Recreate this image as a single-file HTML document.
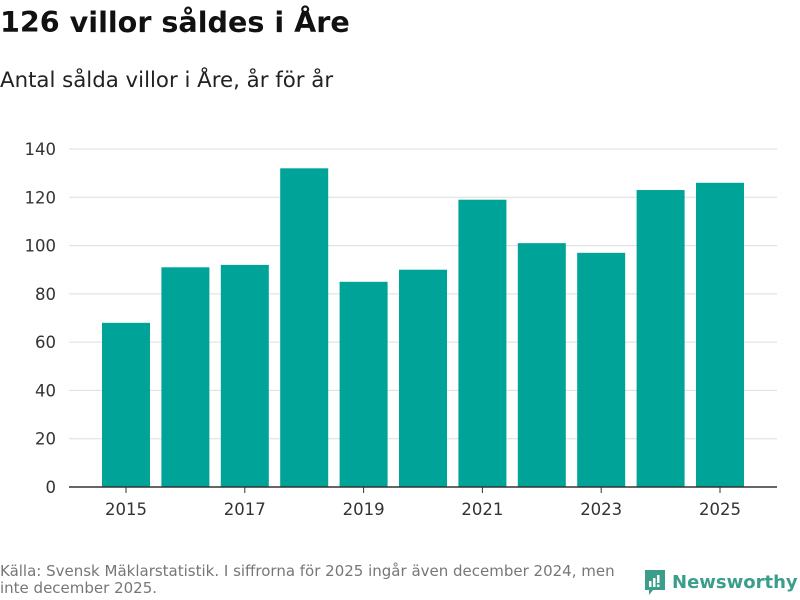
<!DOCTYPE html>
<html><head><meta charset="utf-8"><style>
body{margin:0;width:800px;height:600px;background:#fff;font-family:"DejaVu Sans","Liberation Sans",sans-serif;overflow:hidden;position:relative}
h1{position:absolute;left:0;top:5px;margin:0;font-size:28.6px;font-weight:bold;color:#111}
.sub{position:absolute;left:0;top:68px;font-size:21.3px;color:#222}
.src{position:absolute;left:0;top:563px;font-size:15px;color:#777;line-height:17px;width:640px}
.logo{position:absolute;left:643px;top:568px;display:flex;align-items:center;gap:5px;color:#3a9e8a;font-size:18px;font-weight:bold}
</style></head><body>
<h1>126 villor såldes i Åre</h1>
<div class="sub">Antal sålda villor i Åre, år för år</div>
<svg id="chart" width="800" height="560" style="position:absolute;left:0;top:0"></svg>
<div class="src">Källa: Svensk Mäklarstatistik. I siffrorna för 2025 ingår även december 2024, men inte december 2025.</div>
<div class="logo"><svg width="24" height="28" viewBox="0 0 24 28"><path d="M2 2h20v20H10l-4 5v-5H2z" fill="#3a9e8a"/><rect x="6" y="13" width="2.5" height="6" fill="#fff"/><rect x="10" y="10" width="2.5" height="9" fill="#fff"/><rect x="14" y="7" width="2.5" height="8" fill="#fff"/><rect x="14" y="16.5" width="2.5" height="2.5" fill="#fff"/></svg><span>Newsworthy</span></div>
<script>
const years=[2015,2016,2017,2018,2019,2020,2021,2022,2023,2024,2025];
const values=[68,91,92,132,85,90,119,101,97,123,126];
const yTicks=[0,20,40,60,80,100,120,140];
const xLabels=[2015,2017,2019,2021,2023,2025];
const svg=document.getElementById('chart');
const NS='http://www.w3.org/2000/svg';
const y=v=>487-v*338/140;
const x=yr=>126+(yr-2015)*59.4;
function mk(t,a){const e=document.createElementNS(NS,t);for(const k in a)e.setAttribute(k,a[k]);svg.appendChild(e);return e;}
yTicks.forEach(v=>{
 if(v>0){const g=mk('line',{x1:69,x2:777,y1:y(v),y2:y(v),stroke:'#ddd','stroke-width':1});
 
 }
 const t=mk('text',{x:56,y:y(v)+6,'text-anchor':'end','font-size':16.5,fill:'#333','font-family':'DejaVu Sans, Liberation Sans, sans-serif'});
 t.textContent=v;
 
 
});
years.forEach((yr,i)=>{
 const r=mk('rect',{x:x(yr)-24,y:y(values[i]),width:48,height:487-y(values[i]),fill:'#00a398'});
 
 
});
const ax=mk('line',{x1:69,x2:777,y1:487,y2:487,stroke:'#333','stroke-width':1.5});


xLabels.forEach(yr=>{
 const tk=mk('line',{x1:x(yr),x2:x(yr),y1:487,y2:493,stroke:'#333'});
 
 
 const t=mk('text',{x:x(yr),y:515,'text-anchor':'middle','font-size':16.5,fill:'#333','font-family':'DejaVu Sans, Liberation Sans, sans-serif'});
 t.textContent=yr;
 
 
});
</script>
</body></html>
